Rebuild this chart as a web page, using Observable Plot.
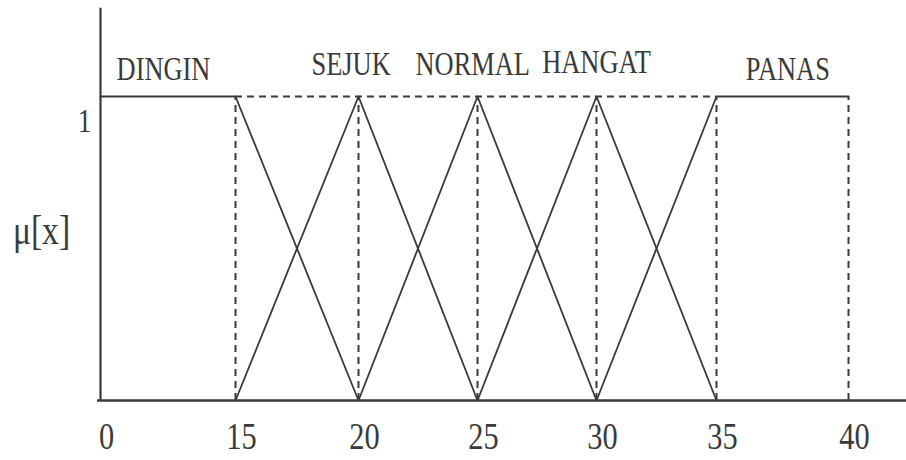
<!DOCTYPE html>
<html>
<head>
<meta charset="utf-8">
<script src="https://cdn.jsdelivr.net/npm/d3@7"></script>
<script src="https://cdn.jsdelivr.net/npm/@observablehq/plot@0.6"></script>
<style>
  html, body { margin: 0; padding: 0; background: #fff; }
  #chart svg { display: block; }
  #chart svg text { font-family: "Liberation Serif", "Times New Roman", serif; }
</style>
</head>
<body>
<div id="chart"></div>
<script>
// Tick labels on the x axis (temperature)
const xTicks = [0, 15, 20, 25, 30, 35, 40];
// Fuzzy set names
const setNames = ["DINGIN", "SEJUK", "NORMAL", "HANGAT", "PANAS"];
// Break points of each membership function
const setX = [[0, 15, 20], [15, 20, 25], [20, 25, 30], [25, 30, 35], [30, 35, 40]];
const setMu = [[1, 1, 0], [0, 1, 0], [0, 1, 0], [0, 1, 0], [0, 1, 1]];
// Dashed guide lines
const dashedX = [15, 20, 25, 30, 35, 40];
const dashedTopFrom = 15, dashedTopTo = 35;
// Label anchor points (data units)
const labelX = [7, 19.7, 24.8, 30, 37.7];
const labelMu = [1.089, 1.107, 1.107, 1.113, 1.09];
const yTick = [1];
const yLabel = "μ[x]";

const lineRows = setNames.flatMap((name, i) =>
  setX[i].map((x, j) => ({set: name, x, mu: setMu[i][j]})));
const labelRows = setNames.map((name, i) => ({name, x: labelX[i], mu: labelMu[i]}));

const ink = "#3a3a3a";
const serif = "Liberation Serif";

const chart = Plot.plot({
  width: 906,
  height: 460,
  marginLeft: 97,
  marginRight: 0,
  marginTop: 0,
  marginBottom: 0,
  style: {fontFamily: "'Liberation Serif', serif", color: ink, background: "#fff"},
  x: {type: "linear", domain: xTicks, range: [100, 235, 358, 477, 596, 716, 848], axis: null},
  y: {domain: [0, 1], range: [400, 96], axis: null},
  marks: [
    // dashed guides
    Plot.ruleX(dashedX, {x: d => d, y1: 0, y2: 1, stroke: ink, strokeWidth: 2, strokeDasharray: "7,5"}),
    Plot.ruleY([1], {x1: dashedTopFrom, x2: dashedTopTo, y: d => d, stroke: ink, strokeWidth: 2, strokeDasharray: "7,5"}),
    // membership functions
    Plot.line(lineRows, {x: "x", y: "mu", z: "set", stroke: ink, strokeWidth: 1.8}),
    // axes lines
    Plot.ruleY([0], {y: d => d, stroke: ink, strokeWidth: 2.6}),
    Plot.ruleX([0], {x: d => d, y1: 0, y2: 1.29, stroke: ink, strokeWidth: 2.2}),
    // x tick labels
    Plot.text(xTicks, {x: d => d, y: 0, text: d => String(d), dy: 36, dx: 6, fontSize: 38, fontFamily: serif, fill: ink, lineAnchor: "middle"}),
    // y tick label
    Plot.text(yTick, {x: 0, y: d => d, text: d => String(d), dx: -16, dy: 25, fontSize: 34, fontFamily: serif, fill: ink, lineAnchor: "middle"}),
    // y label
    Plot.text([yLabel], {x: 0, y: 0.56, text: d => d, dx: -59, fontSize: 42, fontFamily: serif, fill: ink, lineAnchor: "middle"}),
    // set names
    Plot.text(labelRows, {x: "x", y: "mu", text: "name", fontSize: 33, fontFamily: serif, fill: ink, lineAnchor: "middle"})
  ]
});

// The reference typography is narrow (horizontally condensed serif): squeeze each text around its anchor
chart.querySelectorAll("text").forEach(t => {
  let tr = t.getAttribute("transform") || "";
  const x = t.getAttribute("x");
  if (x !== null && /^-?[\d.]+$/.test(x)) {
    tr += ` translate(${x},0)`;
    t.removeAttribute("x");
  }
  t.setAttribute("transform", (tr + " scale(0.8,1)").trim());
});

document.getElementById("chart").appendChild(chart);
</script>
</body>
</html>
